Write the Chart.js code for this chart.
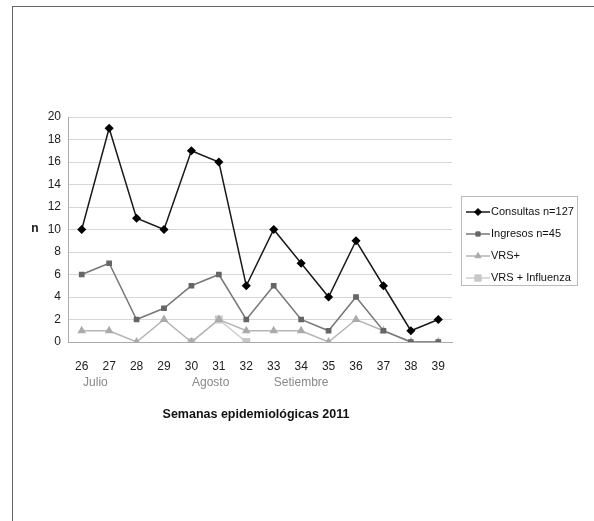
<!DOCTYPE html>
<html lang="es">
  <head>
    <meta charset="UTF-8" />
    <title>Semanas epidemiológicas 2011</title>
    <style>
      body {
        margin: 0;
        padding: 0;
        background: #fff;
      }
      #wrap {
        width: 594px;
        height: 521px;
        position: relative;
      }
    </style>
  </head>
  <body>
    <div id="wrap">
      <canvas id="line-chart" width="594" height="521"></canvas>
    </div>
  </body>
  <script src="https://cdn.jsdelivr.net/npm/chart.js@4.4.0/dist/chart.umd.min.js"></script>
  <script>
    // semanas y series
    let weeks = ['26', '27', '28', '29', '30', '31', '32', '33', '34', '35', '36', '37', '38', '39'];
    let consultas = [10, 19, 11, 10, 17, 16, 5, 10, 7, 4, 9, 5, 1, 2];
    let ingresos = [6, 7, 2, 3, 5, 6, 2, 5, 2, 1, 4, 1, 0, 0];
    let vrs = [1, 1, 0, 2, 0, 2, 1, 1, 1, 0, 2, 1, 0, 0];
    let vrsInfluenza = [null, null, null, null, 0, 2, 0, null, null, null, null, null, null, null];
    let seriesNames = ['Consultas n=127', 'Ingresos n=45', 'VRS+', 'VRS + Influenza'];
    let months = ['Julio', 'Agosto', 'Setiembre'];
    let monthAt = [0.5, 4.7, 8]; // índice de semana bajo el que va cada mes

    const FONT = "'Liberation Sans', Arial, sans-serif";

    const extras = {
      id: 'extras',
      beforeDraw(chart) {
        const ctx = chart.ctx;
        ctx.save();
        ctx.fillStyle = '#fff';
        ctx.fillRect(0, 0, chart.width, chart.height);
        ctx.strokeStyle = '#666';
        ctx.lineWidth = 1;
        ctx.strokeRect(12.5, 6.5, 700, 700);
        ctx.restore();
      },
      afterDraw(chart) {
        const ctx = chart.ctx;
        const x = chart.scales.x;
        const area = chart.chartArea;
        ctx.save();
        // meses
        ctx.fillStyle = '#888';
        ctx.font = '12px ' + FONT;
        ctx.textAlign = 'center';
        ctx.textBaseline = 'middle';
        months.forEach((m, i) => {
          ctx.fillText(m, x.getPixelForValue(monthAt[i]), 383);
        });
        // título eje x
        ctx.fillStyle = '#111';
        ctx.font = 'bold 12.5px ' + FONT;
        ctx.fillText('Semanas epidemiológicas 2011', (area.left + area.right) / 2 - 4, 415);
        // título eje y
        ctx.font = 'bold 12px ' + FONT;
        ctx.fillText('n', 35, 229);

        // leyenda
        ctx.strokeStyle = '#bbb';
        ctx.lineWidth = 1;
        ctx.strokeRect(461.5, 196.5, 116, 89);
        ctx.textAlign = 'left';
        ctx.font = '11px ' + FONT;
        chart.data.datasets.forEach((ds, i) => {
          const y = 212 + i * 22;
          ctx.strokeStyle = ds.borderColor;
          ctx.lineWidth = ds.borderWidth;
          ctx.beginPath();
          ctx.moveTo(466, y);
          ctx.lineTo(490, y);
          ctx.stroke();
          ctx.fillStyle = ds.pointBackgroundColor;
          ctx.strokeStyle = ds.pointBorderColor;
          ctx.lineWidth = 1;
          Chart.helpers.drawPoint(ctx, {
            pointStyle: ds.pointStyle,
            radius: ds.pointRadius,
            rotation: 0,
            borderWidth: 1,
          }, 478, y);
          ctx.fillStyle = '#111';
          ctx.fillText(ds.label, 491, y);
        });
        ctx.restore();
      },
    };

    let chart = new Chart(document.getElementById('line-chart'), {
      type: 'line',
      data: {
        labels: weeks,
        datasets: [
          {
            label: seriesNames[0],
            data: consultas,
            borderColor: '#1a1a1a',
            backgroundColor: '#000',
            pointBackgroundColor: '#000',
            pointBorderColor: '#000',
            borderWidth: 1.5,
            pointStyle: 'rectRot',
            pointRadius: 3.5,
          },
          {
            label: seriesNames[1],
            data: ingresos,
            borderColor: '#777',
            backgroundColor: '#666',
            pointBackgroundColor: '#666',
            pointBorderColor: '#666',
            borderWidth: 1.5,
            pointStyle: 'rect',
            pointRadius: 3,
          },
          {
            label: seriesNames[2],
            data: vrs,
            borderColor: '#b5b5b5',
            backgroundColor: '#aaa',
            pointBackgroundColor: '#aaa',
            pointBorderColor: '#aaa',
            borderWidth: 1.5,
            pointStyle: 'triangle',
            pointRadius: 3.5,
          },
          {
            label: seriesNames[3],
            data: vrsInfluenza,
            borderColor: '#cfcfcf',
            backgroundColor: '#c8c8c8',
            pointBackgroundColor: '#c8c8c8',
            pointBorderColor: '#c8c8c8',
            borderWidth: 1.5,
            pointStyle: 'rect',
            pointRadius: 4.5,
          },
        ],
      },
      options: {
        responsive: false,
        animation: false,
        layout: {
          padding: { left: 0, top: 117, right: 142, bottom: 149 },
        },
        plugins: {
          legend: { display: false },
          tooltip: { enabled: false },
        },
        scales: {
          x: {
            offset: true,
            afterFit(scale) {
              scale.height = 30;
            },
            grid: { display: false },
            border: { display: true, color: '#aaa' },
            ticks: {
              color: '#222',
              font: { family: FONT, size: 12 },
              padding: 9,
              maxRotation: 0,
            },
          },
          y: {
            min: 0,
            max: 20,
            afterFit(scale) {
              scale.width = 68;
            },
            grid: { color: '#d6d6d6', drawTicks: false },
            border: { display: true, color: '#aaa' },
            ticks: {
              stepSize: 2,
              color: '#222',
              font: { family: FONT, size: 12 },
              padding: 7,
            },
          },
        },
      },
      plugins: [extras],
    });
  </script>
</html>
